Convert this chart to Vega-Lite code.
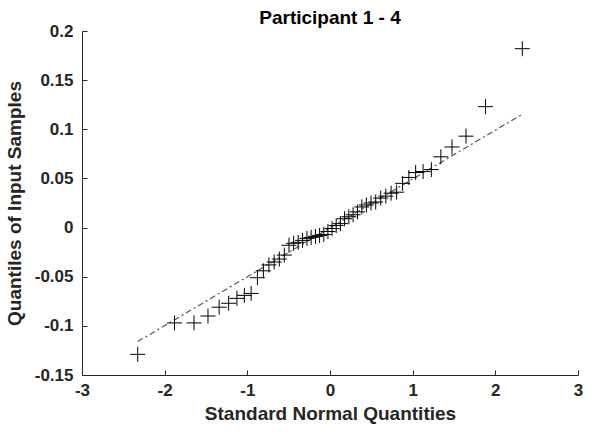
{
  "$schema": "https://vega.github.io/schema/vega-lite/v6.json",
  "autosize": "none",
  "padding": {"left": 82, "top": 31, "right": 16, "bottom": 60},
  "width": 496,
  "height": 344,
  "background": "white",
  "config": {
    "font": "Liberation Sans",
    "view": {"stroke": null},
    "axis": {
      "grid": false,
      "labelFont": "Liberation Sans",
      "labelFontWeight": "bold",
      "labelFontSize": 17,
      "labelColor": "#262626",
      "domainColor": "#262626",
      "tickColor": "#262626",
      "tickSize": -5,
      "titleFont": "Liberation Sans",
      "titleFontWeight": "bold",
      "titleFontSize": 19,
      "titleColor": "#262626"
    },
    "title": {"font": "Liberation Sans", "fontWeight": "bold", "fontSize": 19, "color": "#000000"}
  },
  "title": {"text": "Participant 1 - 4", "offset": -6},
  "datasets": {
    "pts": [
      {"q": -2.326, "s": -0.129},
      {"q": -1.881, "s": -0.097},
      {"q": -1.645, "s": -0.097},
      {"q": -1.476, "s": -0.090},
      {"q": -1.341, "s": -0.081},
      {"q": -1.226, "s": -0.077},
      {"q": -1.126, "s": -0.072},
      {"q": -1.036, "s": -0.069},
      {"q": -0.954, "s": -0.067},
      {"q": -0.878, "s": -0.051},
      {"q": -0.806, "s": -0.044},
      {"q": -0.739, "s": -0.038},
      {"q": -0.675, "s": -0.035},
      {"q": -0.613, "s": -0.032},
      {"q": -0.553, "s": -0.028},
      {"q": -0.496, "s": -0.018},
      {"q": -0.440, "s": -0.016},
      {"q": -0.385, "s": -0.015},
      {"q": -0.332, "s": -0.013},
      {"q": -0.279, "s": -0.011},
      {"q": -0.228, "s": -0.010},
      {"q": -0.176, "s": -0.009},
      {"q": -0.126, "s": -0.008},
      {"q": -0.075, "s": -0.007},
      {"q": -0.025, "s": -0.004},
      {"q": 0.025, "s": -0.001},
      {"q": 0.075, "s": 0.002},
      {"q": 0.126, "s": 0.004},
      {"q": 0.176, "s": 0.009},
      {"q": 0.228, "s": 0.011},
      {"q": 0.279, "s": 0.013},
      {"q": 0.332, "s": 0.016},
      {"q": 0.385, "s": 0.021},
      {"q": 0.440, "s": 0.023},
      {"q": 0.496, "s": 0.025},
      {"q": 0.553, "s": 0.026},
      {"q": 0.613, "s": 0.030},
      {"q": 0.675, "s": 0.032},
      {"q": 0.739, "s": 0.035},
      {"q": 0.806, "s": 0.036},
      {"q": 0.878, "s": 0.045},
      {"q": 0.954, "s": 0.051},
      {"q": 1.036, "s": 0.056},
      {"q": 1.126, "s": 0.057},
      {"q": 1.226, "s": 0.059},
      {"q": 1.341, "s": 0.072},
      {"q": 1.476, "s": 0.082},
      {"q": 1.645, "s": 0.093},
      {"q": 1.881, "s": 0.123},
      {"q": 2.326, "s": 0.182}
    ],
    "fit": [
      {"q": -2.326, "s": -0.116},
      {"q": 2.326, "s": 0.1153}
    ]
  },
  "encoding": {
    "x": {
      "field": "q",
      "type": "quantitative",
      "scale": {"domain": [-3, 3], "nice": false, "zero": false},
      "axis": {
        "title": "Standard Normal Quantities",
        "values": [-3, -2, -1, 0, 1, 2, 3],
        "labelExpr": "datum.value < 0 ? '-' + format(-datum.value, '~g') : format(datum.value, '~g')",
        "labelPadding": 12,
        "titlePadding": 6,
        "labelFlush": false
      }
    },
    "y": {
      "field": "s",
      "type": "quantitative",
      "scale": {"domain": [-0.15, 0.2], "nice": false, "zero": false},
      "axis": {
        "title": "Quantiles of Input Samples",
        "values": [-0.15, -0.1, -0.05, 0, 0.05, 0.1, 0.15, 0.2],
        "labelExpr": "datum.value < 0 ? '-' + format(-datum.value, '~g') : format(datum.value, '~g')",
        "labelPadding": 14,
        "titlePadding": 10,
        "labelFlush": false
      }
    }
  },
  "layer": [
    {
      "data": {"name": "fit"},
      "mark": {"type": "line", "color": "#555555", "strokeWidth": 1.2, "strokeDash": [6, 3, 2, 3]}
    },
    {
      "data": {"name": "pts"},
      "mark": {"type": "point", "shape": "M-1,0H1M0,-1V1", "size": 225, "filled": false, "stroke": "#000000", "strokeWidth": 1, "opacity": 1}
    }
  ]
}
